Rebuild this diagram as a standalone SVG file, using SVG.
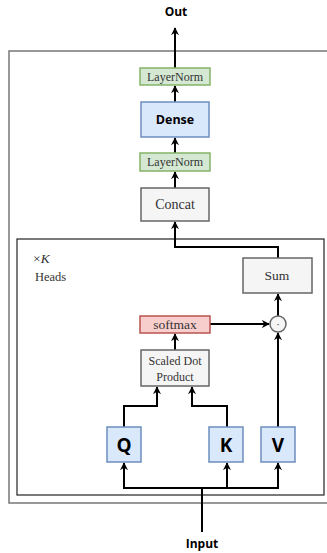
<svg xmlns="http://www.w3.org/2000/svg" width="327" height="553" viewBox="0 0 327 553">
<style>
.serif{font-family:"Liberation Serif","Times New Roman",serif;fill:#333;}
.sans{font-family:"Open Sans","Liberation Sans",Arial,sans-serif;font-weight:bold;fill:#000;}
.ln{fill:#d5e8d4;stroke:#82b366;stroke-width:1.5;}
.bl{fill:#dae8fc;stroke:#6c8ebf;stroke-width:1.5;}
.gr{fill:#f5f5f5;stroke:#666;stroke-width:1.5;}
.rd{fill:#f8cecc;stroke:#b85450;stroke-width:1.5;}
.c{fill:none;stroke:#000;stroke-width:2;marker-end:url(#a);}
.cl{fill:none;stroke:#000;stroke-width:2;}
</style>
<defs>
<marker id="a" viewBox="0 0 10 10" refX="9" refY="5" markerWidth="8" markerHeight="8" markerUnits="userSpaceOnUse" orient="auto">
<path d="M0,0 L10,5 L0,10 L3,5 z" fill="#000"/>
</marker>
</defs>
<rect width="327" height="553" fill="#fff"/>
<g id="outer"><rect x="9" y="51" width="330" height="452" fill="none" stroke="#777" stroke-width="1.5"/></g>
<g id="heads"><rect x="17" y="239" width="307" height="256" fill="none" stroke="#222" stroke-width="1.2"/>
<text x="33" y="263" class="serif" font-size="13.5" fill="#222">×<tspan font-style="italic">K</tspan></text>
<text x="35" y="281" class="serif" font-size="12.5" fill="#222">Heads</text></g>
<g id="connectors">
<path class="c" d="M175,68 V28"/>
<path class="c" d="M175,102 V86"/>
<path class="c" d="M175,153 V138"/>
<path class="c" d="M175,188 V172"/>
<path class="c" d="M278,258 V247 H175 V222"/>
<path class="c" d="M278,316 V294"/>
<path class="c" d="M210,324 H269"/>
<path class="c" d="M175,350 V334"/>
<path class="c" d="M124,427 V406 H157 V387"/>
<path class="c" d="M227,427 V406 H192 V387"/>
<path class="c" d="M278,427 V333"/>
<path class="cl" d="M202,532 V488"/>
<path class="c" d="M202,488 H124 V463"/>
<path class="c" d="M202,488 H227 V463"/>
<path class="c" d="M227,488 H278 V463"/>
</g>
<g id="out"><text x="176" y="16" class="sans" font-size="12" text-anchor="middle">Out</text></g>
<g id="layernorm1"><rect x="140" y="68" width="70" height="17" class="ln"/><text x="175" y="81" class="serif" font-size="12" text-anchor="middle">LayerNorm</text></g>
<g id="dense"><rect x="141" y="102" width="68" height="35" class="bl"/><text x="175" y="124" class="sans" font-size="12.5" text-anchor="middle">Dense</text></g>
<g id="layernorm2"><rect x="140" y="153" width="70" height="18" class="ln"/><text x="175" y="166" class="serif" font-size="12" text-anchor="middle">LayerNorm</text></g>
<g id="concat"><rect x="141" y="188" width="68" height="33" class="gr"/><text x="175" y="209" class="serif" font-size="14" text-anchor="middle">Concat</text></g>
<g id="sum"><rect x="243" y="258" width="69" height="35" class="gr"/><text x="277" y="280" class="serif" font-size="13.5" text-anchor="middle">Sum</text></g>
<g id="mul"><circle cx="278" cy="324" r="8" fill="#f5f5f5" stroke="#666" stroke-width="1.5"/><text x="278" y="328" class="serif" font-size="11" text-anchor="middle">·</text></g>
<g id="softmax"><rect x="140" y="316" width="70" height="17" class="rd"/><text x="175" y="329" class="serif" font-size="13.5" text-anchor="middle">softmax</text></g>
<g id="sdp"><rect x="141" y="350" width="68" height="36" class="gr"/><text x="175" y="365" class="serif" font-size="12" text-anchor="middle">Scaled Dot</text><text x="175" y="381" class="serif" font-size="12" text-anchor="middle">Product</text></g>
<g id="q"><rect x="107" y="427" width="34" height="35" class="bl"/><text x="124" y="452" class="sans" font-size="19" text-anchor="middle">Q</text></g>
<g id="k"><rect x="209" y="427" width="34" height="35" class="bl"/><text x="226" y="452" class="sans" font-size="19" text-anchor="middle">K</text></g>
<g id="v"><rect x="261" y="427" width="34" height="35" class="bl"/><text x="278" y="452" class="sans" font-size="19" text-anchor="middle">V</text></g>
<g id="input"><text x="202" y="548" class="sans" font-size="12" text-anchor="middle">Input</text></g>
</svg>
